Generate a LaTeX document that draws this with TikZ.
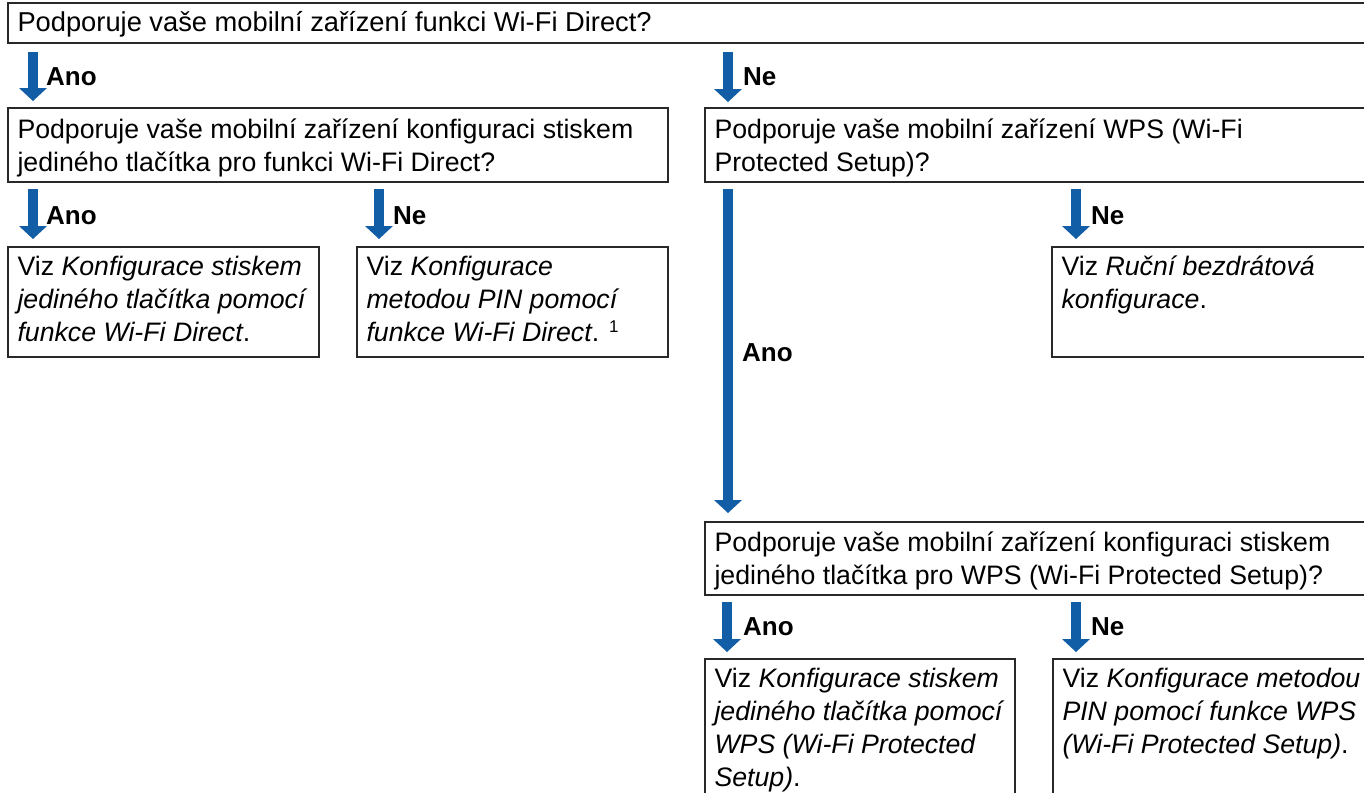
\documentclass[tikz,border=0pt]{standalone}
\usepackage{fontspec}
\setmainfont{Liberation Sans}
\usetikzlibrary{arrows.meta,calc}
\definecolor{flowblue}{RGB}{17,94,166}
\definecolor{boxline}{RGB}{40,40,40}
\newcommand\boxtxt[4]{\parbox[t][#1pt][t]{#2pt}{\raggedright\rule{0pt}{#3pt}#4}}
\newcommand\supone{\raisebox{9pt}{\fontsize{17}{17}\selectfont 1}}
\begin{document}
\begin{tikzpicture}[x=1pt,y=-1pt,
  box/.style={draw=boxline, line width=1.4pt, anchor=north west, inner xsep=9.5pt, inner ysep=0pt, outer sep=0pt, font=\fontsize{26.7}{33}\selectfont},
  flow/.style={draw=flowblue, line width=10.5pt, -{Triangle[width=28pt,length=13pt,line width=0pt]}},
  lbl/.style={anchor=base west, inner sep=0pt, font=\fontsize{26}{30}\selectfont\bfseries}]
\clip (0,0) rectangle (1364,792);
\fill[white] (0,0) rectangle (1364,792);

% boxes
\node[box, font=\fontsize{27.3}{33}\selectfont] (q0) at (8,3) {\boxtxt{40}{1373}{29}{Podporuje vaše mobilní zařízení funkci Wi-Fi Direct?}};
\node[box] (q1) at (8,108) {\boxtxt{74}{641}{30.5}{Podporuje vaše mobilní zařízení konfiguraci stiskem\\ jediného tlačítka pro funkci Wi-Fi Direct?}};
\node[box] (q2) at (705,108) {\boxtxt{74}{676}{30.5}{Podporuje vaše mobilní zařízení WPS (Wi-Fi\\ Protected Setup)?}};
\node[box] (a) at (8,247) {\boxtxt{110}{292}{28}{Viz \textit{Konfigurace stiskem\\ jediného tlačítka pomocí\\ funkce Wi-Fi Direct}.}};
\node[box] (b) at (357,247) {\boxtxt{110}{292}{28}{Viz \textit{Konfigurace\\ metodou PIN pomocí\\ funkce Wi-Fi Direct}. \supone}};
\node[box] (r) at (1052,247) {\boxtxt{110}{329}{28}{Viz \textit{Ruční bezdrátová\\ konfigurace}.}};
\node[box] (q3) at (705,522) {\boxtxt{73}{676}{29.5}{Podporuje vaše mobilní zařízení konfiguraci stiskem\\ jediného tlačítka pro WPS (Wi-Fi Protected Setup)?}};
\node[box] (c) at (705,659) {\boxtxt{150}{291}{28.5}{Viz \textit{Konfigurace stiskem\\ jediného tlačítka pomocí\\ WPS (Wi-Fi Protected\\ Setup)}.}};
\node[box] (d) at (1053,659) {\boxtxt{150}{328}{28.5}{Viz \textit{Konfigurace metodou\\ PIN pomocí funkce WPS\\ (Wi-Fi Protected Setup)}.}};

% connectors
\draw[flow] ($(q0.south west)+(25,9)$) -- ($(q1.north west)+(25,-7)$);
\draw[flow] ($(q2.north west|-q0.south)+(23,9)$) -- ($(q2.north west)+(23,-6)$);
\draw[flow] ($(q1.south west)+(25,7)$) -- ($(a.north west)+(25,-8)$);
\draw[flow] ($(b.north west|-q1.south)+(22,7)$) -- ($(b.north west)+(22,-8)$);
\draw[flow] ($(q2.south west)+(23,7)$) -- ($(q3.north west)+(23,-9)$);
\draw[flow] ($(r.north west|-q2.south)+(24,7)$) -- ($(r.north west)+(24,-8)$);
\draw[flow] ($(q3.south west)+(22,7)$) -- ($(c.north west)+(22,-7)$);
\draw[flow] ($(d.north west|-q3.south)+(23,7)$) -- ($(d.north west)+(23,-7)$);

% labels
\node[lbl] (l1) at (46,85) {Ano};
\node[lbl] (l2) at (743,85) {Ne};
\node[lbl] (l3) at (46,224) {Ano};
\node[lbl] (l4) at (393,224) {Ne};
\node[lbl] (l5) at (742,361) {Ano};
\node[lbl] (l6) at (1091,224) {Ne};
\node[lbl] (l7) at (743,635) {Ano};
\node[lbl] (l8) at (1091,635) {Ne};
\end{tikzpicture}
\end{document}
